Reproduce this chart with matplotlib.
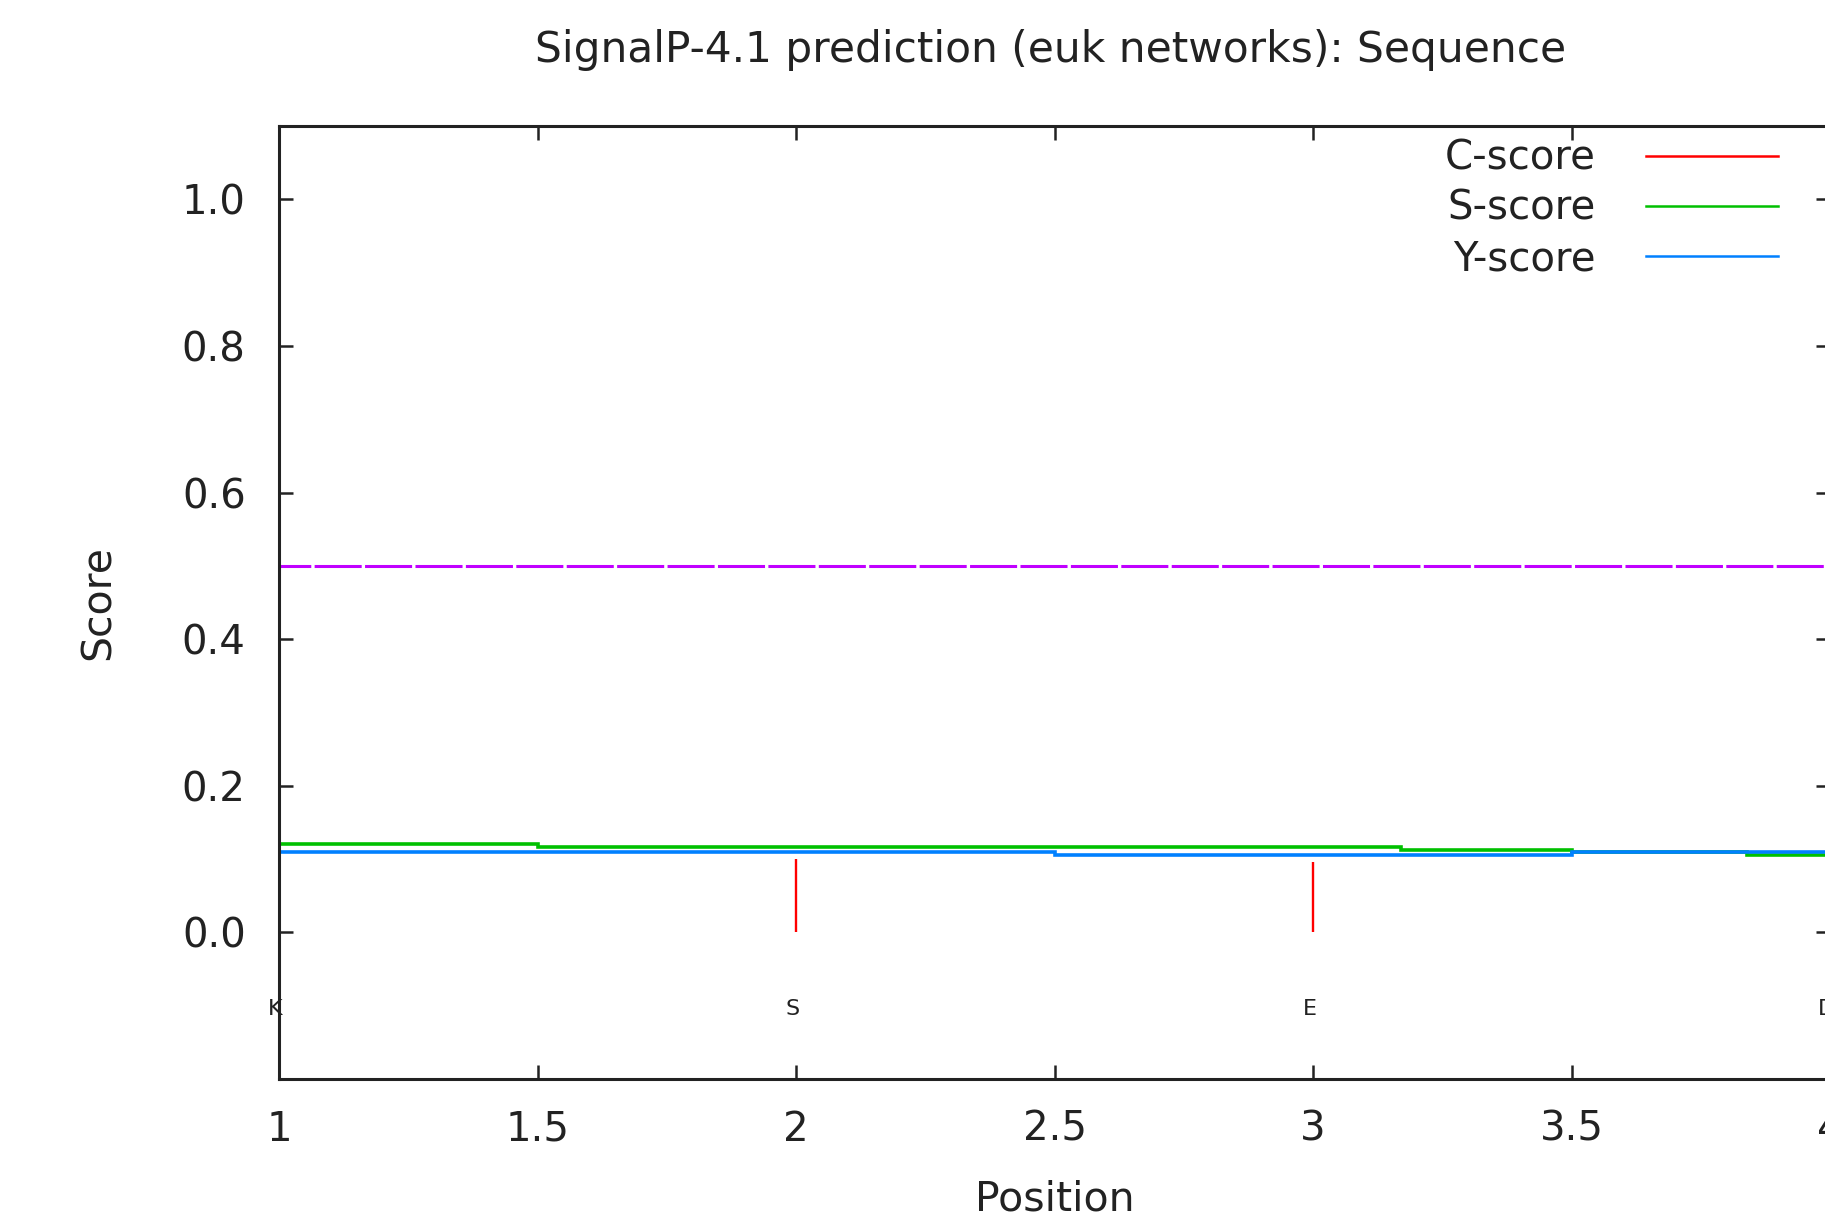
import numpy as np
import matplotlib
matplotlib.use("Agg")
import matplotlib.pyplot as plt
from matplotlib.lines import Line2D

# sequence positions and residues
positions = [1, 2, 3, 4]
residues = ["K", "S", "E", "D"]

# C-score (impulses)
c_score = [0.10, 0.100, 0.096, 0.10]

# S-score / Y-score step curves (step edges and level between edges)
s_edges = [1, 1.5, 3.17, 3.5, 3.84, 4]
s_vals = [0.120, 0.116, 0.112, 0.109, 0.106]
y_edges = [1, 2.5, 3.5, 4]
y_vals = [0.109, 0.106, 0.109]

cutoff = 0.5

plt.rcParams['font.family'] = ['DejaVu Sans']

fig = plt.figure(figsize=(18.25, 12.29), dpi=100)
ax = fig.add_axes([279 / 1825, 150 / 1229, 1551 / 1825, 953 / 1229])

red, green, blue, violet = "#ff0000", "#00c000", "#0080ff", "#c000ff"
txt = "#222222"

ax.vlines(positions, 0, c_score, color=red, lw=1.7)
ax.stairs(s_vals, s_edges, color=green, lw=2.6, baseline=None)
ax.stairs(y_vals, y_edges, color=blue, lw=2.6, baseline=None)
ax.axhline(cutoff, color=violet, lw=2.2, linestyle=(5, (15.4, 1.1)))

for p, r in zip(positions, residues):
    ax.text(p - 0.007, -0.104, r, ha="center", va="center", fontsize=16, color=txt)

ax.set_xlim(1, 4)
ax.set_ylim(-0.2, 1.1)
ax.set_xticks([1, 1.5, 2, 2.5, 3, 3.5, 4])
ax.set_xticklabels(["1", "1.5", "2", "2.5", "3", "3.5", "4"])
ax.set_yticks([0, 0.2, 0.4, 0.6, 0.8, 1.0])
ax.set_yticklabels(["0.0", "0.2", "0.4", "0.6", "0.8", "1.0"])
ax.tick_params(direction="in", length=10, width=1.8, labelsize=29,
               top=True, right=True, colors=txt)
ax.tick_params(axis="y", pad=24)
ax.tick_params(axis="x", pad=22)
for sp in ax.spines.values():
    sp.set_linewidth(2.2)
    sp.set_color(txt)

ax.set_xlabel("Position", fontsize=29.5, color=txt)
ax.xaxis.set_label_coords(0.5, -0.105)
ax.set_ylabel("Score", fontsize=29.5, color=txt)
ax.yaxis.set_label_coords(-0.103, 0.5)

fig.text(1051 / 1825, 1 - 50 / 1229, "SignalP-4.1 prediction (euk networks): Sequence",
         ha="center", va="center", fontsize=30.4, color=txt)

handles = [Line2D([], [], color=red, lw=1.8),
           Line2D([], [], color=green, lw=1.8),
           Line2D([], [], color=blue, lw=1.8)]
ax.legend(handles, ["C-score", "S-score", "Y-score"], loc="upper right",
          bbox_to_anchor=(0.9665, 0.9865), frameon=False, markerfirst=False,
          fontsize=29, handlelength=3.28, handletextpad=1.25, labelspacing=0.25,
          borderpad=0, borderaxespad=0, labelcolor=txt)

fig.savefig("out.png", dpi=100)
